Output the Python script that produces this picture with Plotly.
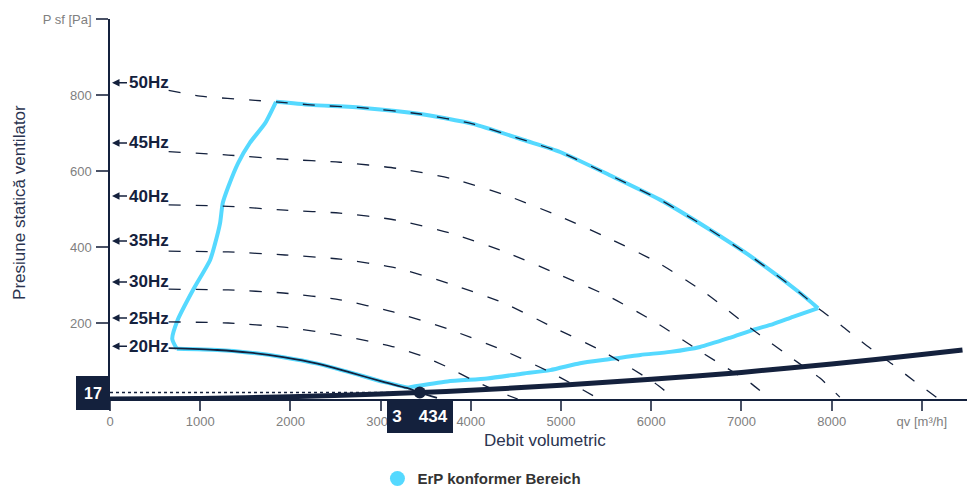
import plotly.graph_objects as go

NAVY = "#14213d"
CYAN = "#55d9ff"
GRAY = "#808080"
FONT = "Liberation Sans, Arial, sans-serif"

# ---- data ----
q50 = [650, 1000, 1610, 1840, 2220, 2810, 3440, 4020, 4620, 4990, 5540, 6100, 6620, 7130, 7650, 7850, 8130, 8390, 8670, 8900, 9170]
p50 = [812, 797, 786, 782, 774, 766, 750, 724, 679, 650, 589, 524, 450, 371, 279, 239, 189, 140, 92, 50, 3]

q45 = [650, 1310, 1920, 2550, 3180, 3770, 4380, 4970, 5520, 6080, 6600, 7100, 7620, 7870, 8090]
p45 = [651, 642, 631, 623, 607, 581, 537, 482, 424, 358, 279, 187, 97, 55, 5]

q40 = [650, 1310, 1940, 2550, 3170, 3780, 4370, 4930, 5520, 6060, 6570, 7100, 7300]
p40 = [511, 507, 497, 489, 471, 436, 388, 332, 271, 200, 121, 42, 3]

q35 = [650, 1310, 1940, 2550, 3170, 3770, 4360, 4910, 5470, 6020, 6240]
p35 = [389, 387, 379, 368, 345, 303, 253, 189, 124, 45, 5]

q30 = [650, 1310, 1920, 2550, 3140, 3750, 4350, 4900, 5400]
p30 = [289, 287, 279, 261, 229, 184, 129, 68, 3]

q25 = [650, 1310, 1930, 2540, 3150, 3460, 3740, 4020, 4320, 4520]
p25 = [203, 200, 189, 168, 137, 113, 84, 50, 18, 0]

q20 = [650, 1190, 1550, 1920, 2300, 2660, 3030, 3290, 3434, 3625]
p20 = [134, 129, 122, 110, 93, 70, 45, 29, 17, 3]

# ErP envelope, in four edges
env_top_q = [1840, 2220, 2810, 3440, 4020, 4620, 4990, 5540, 6100, 6620, 7130, 7650, 7850]
env_top_p = [782, 774, 766, 750, 724, 679, 650, 589, 524, 450, 371, 279, 239]
env_right_q = [7850, 7570, 7350, 7130, 6870, 6540, 6210, 5880, 5510, 5210, 4880, 4550, 4180, 3740, 3300]
env_right_p = [239, 216, 197, 182, 161, 137, 124, 116, 104, 94, 76, 66, 54, 46, 30]
env_bottom_q = [3300, 3030, 2660, 2300, 1920, 1550, 1190, 740]
env_bottom_p = [30, 45, 70, 93, 110, 122, 129, 132]
env_left_q = [740, 690, 750, 920, 1110, 1160, 1220, 1250, 1310, 1420, 1550, 1720, 1840]
env_left_p = [132, 158, 208, 287, 366, 405, 463, 516, 558, 621, 674, 726, 782]

sys_q = [0, 1000, 2000, 3000, 3434, 4000, 5000, 6000, 7000, 8000, 9000, 9450]
sys_p = [0, 1.5, 6, 13, 17, 23, 36, 52, 70, 92, 117, 129]

op_q = 3434
op_p = 17
op_q_label = "3\u2003434"
op_p_label = "17"

hz_labels = ["50Hz", "45Hz", "40Hz", "35Hz", "30Hz", "25Hz", "20Hz"]
hz_label_p = [832, 674, 534, 416, 308, 213, 139]

x_tickvals = [0, 1000, 2000, 3000, 4000, 5000, 6000, 7000, 8000, 9000]
x_ticktext = ["0", "1000", "2000", "3000", "4000", "5000", "6000", "7000", "8000", "qv [m³/h]"]
y_tickvals = [200, 400, 600, 800, 1000]
y_ticktext = ["200", "400", "600", "800", "P sf [Pa]"]

legend_name = "ErP konformer Bereich"
x_title = "Debit volumetric"
y_title = "Presiune statică ventilator"

fig = go.Figure()

# ErP envelope edges
for qs, ps in [(env_top_q, env_top_p), (env_right_q, env_right_p),
               (env_bottom_q, env_bottom_p), (env_left_q, env_left_p)]:
    fig.add_trace(go.Scatter(x=qs, y=ps, mode="lines",
                             line=dict(color=CYAN, width=4, shape="spline", smoothing=0.6),
                             showlegend=False, hoverinfo="skip"))

# dashed frequency curves
for qs, ps in [(q50, p50), (q45, p45), (q40, p40), (q35, p35), (q30, p30), (q25, p25)]:
    fig.add_trace(go.Scatter(x=qs, y=ps, mode="lines",
                             line=dict(color=NAVY, width=1.3, dash="12px,15px", shape="spline", smoothing=0.6),
                             showlegend=False, hoverinfo="skip"))

# operating fan curve (solid thin)
fig.add_trace(go.Scatter(x=q20, y=p20, mode="lines",
                         line=dict(color=NAVY, width=1.8, shape="spline", smoothing=0.8),
                         showlegend=False, hoverinfo="skip"))

# dotted helper line
fig.add_trace(go.Scatter(x=[0, op_q], y=[op_p, op_p], mode="lines",
                         line=dict(color=NAVY, width=1.5, dash="3px,3px"),
                         showlegend=False, hoverinfo="skip"))

# system curve
fig.add_trace(go.Scatter(x=sys_q, y=sys_p, mode="lines",
                         line=dict(color=NAVY, width=5, shape="spline", smoothing=0.6),
                         showlegend=False, hoverinfo="skip"))

# operating point
fig.add_trace(go.Scatter(x=[op_q], y=[op_p], mode="markers",
                         marker=dict(color=NAVY, size=12), showlegend=False, hoverinfo="skip",
                         cliponaxis=False))

# legend item
fig.add_trace(go.Scatter(x=[None], y=[None], mode="markers", name=legend_name,
                         marker=dict(color=CYAN, size=15)))

annotations = []
for lab, p in zip(hz_labels, hz_label_p):
    annotations.append(dict(x=0, y=p, xref="x", yref="y", text="<b>%s</b>" % lab,
                            showarrow=True, ax=17, ay=0, axref="pixel", ayref="pixel",
                            xanchor="left", yanchor="middle",
                            arrowhead=2, arrowsize=1, arrowwidth=1.5, arrowcolor=NAVY,
                            standoff=2, font=dict(family=FONT, size=17, color=NAVY)))

annotations.append(dict(x=0, y=op_p, xref="x", yref="y", text="<b>%s</b>" % op_p_label,
                        showarrow=False, xanchor="right", yanchor="middle",
                        width=34, height=34, borderpad=0, borderwidth=0,
                        bgcolor=NAVY, font=dict(family=FONT, size=16, color="white")))
annotations.append(dict(x=op_q, y=0, xref="x", yref="y", text="<b>%s</b>" % op_q_label,
                        showarrow=False, xanchor="center", yanchor="top",
                        width=66, height=34, borderpad=0, borderwidth=0,
                        bgcolor=NAVY, font=dict(family=FONT, size=17, color="white")))

annotations.append(dict(x=0.5076, y=-0.1105, xref="paper", yref="paper", text=x_title,
                        showarrow=False, xanchor="center", yanchor="middle",
                        font=dict(family=FONT, size=17, color="#2b3450")))
annotations.append(dict(x=-0.105, y=0.516, xref="paper", yref="paper", text=y_title,
                        showarrow=False, xanchor="center", yanchor="middle", textangle=-90,
                        font=dict(family=FONT, size=17, color="#2b3450")))

fig.update_layout(
    width=967, height=489,
    margin=dict(l=110, r=0, t=19, b=90, autoexpand=False),
    plot_bgcolor="white", paper_bgcolor="white",
    font=dict(family=FONT),
    showlegend=True,
    legend=dict(orientation="h", x=0.434, xanchor="center", y=-0.21, yanchor="middle",
                font=dict(family=FONT, size=15, color="#333333", weight="bold"),
                itemsizing="trace"),
    annotations=annotations,
    xaxis=dict(range=[0, 9500], tickmode="array", tickvals=x_tickvals, ticktext=x_ticktext,
               showgrid=False, zeroline=False, showline=True, linecolor=NAVY, linewidth=1.5,
               ticks="outside", ticklen=10, tickwidth=1.5, tickcolor="#4a5266",
               tickfont=dict(family=FONT, size=13, color=GRAY)),
    yaxis=dict(range=[0, 1000], tickmode="array", tickvals=y_tickvals, ticktext=y_ticktext,
               showgrid=False, zeroline=False, showline=True, linecolor=NAVY, linewidth=1.5,
               ticks="outside", ticklen=12, tickwidth=1.5, tickcolor="#4a5266",
               ticklabelstandoff=2,
               tickfont=dict(family=FONT, size=13, color=GRAY)),
)

fig.write_html("out.html", config={"displayModeBar": False},
               post_script="document.body.style.margin='0';")
